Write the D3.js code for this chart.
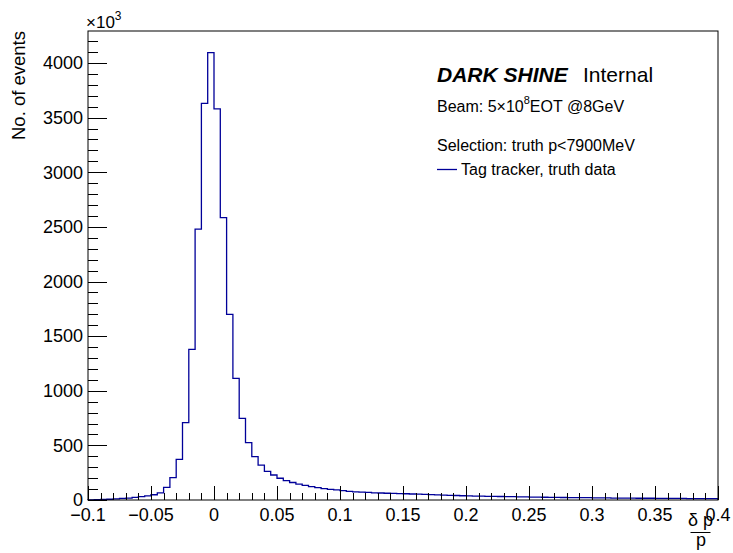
<!DOCTYPE html>
<html>
<head>
<meta charset="utf-8">
<script src="https://cdn.jsdelivr.net/npm/d3@7"></script>
<style>
  body { margin: 0; background: #fff; }
  svg text { font-family: "Liberation Sans", Arial, Helvetica, sans-serif; fill: #000; }
</style>
</head>
<body>
<svg width="733" height="553"></svg>
<script>
// histogram binning: 100 bins of 0.005 from -0.1 to 0.4
var xMin = -0.1, xMax = 0.4, binWidth = 0.005;

// bin contents (x10^3 events)
var counts = [
  2, 3, 5, 7, 10, 14, 18, 24, 30, 38,
  48, 65, 116, 204, 372, 708, 1379, 2480, 3631, 4095,
  3580, 2584, 1700, 1114, 748, 525, 397, 320, 262, 229,
  199, 177, 160, 146, 134, 122, 113, 104, 98, 92,
  85, 79, 75, 72, 69, 66, 64, 62, 60, 59,
  57, 55, 53, 51, 49, 47, 45, 43, 41, 39,
  37, 36, 35, 34, 33, 32, 31, 30, 29, 28,
  27, 26, 25, 24, 24, 23, 22, 22, 21, 21,
  20, 19, 19, 18, 18, 17, 17, 16, 16, 16,
  15, 15, 14, 14, 14, 13, 13, 13, 12, 12
];

var xTicks = [-0.1, -0.05, 0, 0.05, 0.1, 0.15, 0.2, 0.25, 0.3, 0.35, 0.4];
var xTickLabels = ["\u22120.1", "\u22120.05", "0", "0.05", "0.1", "0.15", "0.2", "0.25", "0.3", "0.35", "0.4"];
var yTicks = [0, 500, 1000, 1500, 2000, 2500, 3000, 3500, 4000];
var yMax = 4293;

var svg = d3.select("svg");
var frameL = 88, frameR = 718, frameT = 31, frameB = 500;

var x = d3.scaleLinear().domain([xMin, xMax]).range([frameL, frameR]);
var y = d3.scaleLinear().domain([0, yMax]).range([frameB, frameT]);

// histogram outline
var pts = [[xMin, 0]];
counts.forEach(function (c, i) {
    var lo = xMin + i * binWidth;
    pts.push([lo, c]);
    pts.push([lo + binWidth, c]);
});
pts.push([xMax, 0]);

svg.append("path")
    .datum(pts)
    .attr("fill", "none")
    .attr("stroke", "#000099")
    .attr("stroke-width", 1.3)
    .attr("d", d3.line()
        .x(function (d) { return x(d[0]); })
        .y(function (d) { return y(d[1]); }));

// frame
svg.append("rect")
    .attr("x", frameL).attr("y", frameT)
    .attr("width", frameR - frameL).attr("height", frameB - frameT)
    .attr("fill", "none").attr("stroke", "#000").attr("stroke-width", 1);

// x axis ticks (inside, pointing up)
var xMinor = d3.range(0, 51).map(function (i) { return xMin + i * 0.01; });
svg.append("g").selectAll("line").data(xMinor).enter().append("line")
    .attr("x1", function (d) { return Math.round(x(d)) + 0.5; })
    .attr("x2", function (d) { return Math.round(x(d)) + 0.5; })
    .attr("y1", frameB)
    .attr("y2", function (d, i) { return i % 5 === 0 ? frameB - 14 : frameB - 7; })
    .attr("stroke", "#000");

svg.append("g").selectAll("text").data(xTicks).enter().append("text")
    .attr("x", function (d) { return x(d); })
    .attr("y", 521)
    .attr("text-anchor", "middle")
    .style("font-size", "18px")
    .text(function (d, i) { return xTickLabels[i]; });

// y axis ticks (inside, pointing right)
var yMinor = d3.range(0, 43).map(function (i) { return i * 100; });
svg.append("g").selectAll("line").data(yMinor).enter().append("line")
    .attr("x1", frameL)
    .attr("x2", function (d, i) { return i % 5 === 0 ? frameL + 19 : frameL + 10; })
    .attr("y1", function (d) { return Math.round(y(d)) + 0.5; })
    .attr("y2", function (d) { return Math.round(y(d)) + 0.5; })
    .attr("stroke", "#000");

svg.append("g").selectAll("text").data(yTicks).enter().append("text")
    .attr("x", 83)
    .attr("y", function (d) { return y(d); })
    .attr("dy", "0.35em")
    .attr("text-anchor", "end")
    .style("font-size", "18px")
    .text(function (d) { return d; });

// x10^3 multiplier
var mult = svg.append("text").attr("x", 86).attr("y", 28).style("font-size", "17px");
mult.append("tspan").text("\u00d710");
mult.append("tspan").attr("dy", -8).style("font-size", "12px").text("3");

// y title
svg.append("text")
    .attr("transform", "translate(25," + frameT + ") rotate(-90)")
    .attr("text-anchor", "end")
    .style("font-size", "18.5px")
    .text("No. of events");

// x title: delta p over p
svg.append("text").attr("x", 700.5).attr("y", 526).attr("text-anchor", "middle")
    .style("font-size", "18px").text("\u03b4 p");
svg.append("line").attr("x1", 690.5).attr("x2", 710.5).attr("y1", 532.5).attr("y2", 532.5)
    .attr("stroke", "#000");
svg.append("text").attr("x", 701).attr("y", 546).attr("text-anchor", "middle")
    .style("font-size", "18px").text("p");

// labels
var t1 = svg.append("text").attr("x", 437).attr("y", 82).style("font-size", "21px");
t1.append("tspan").style("font-weight", "bold").style("font-style", "italic").text("DARK SHINE");
t1.append("tspan").attr("x", 583).text("Internal");

var t2 = svg.append("text").attr("x", 437).attr("y", 112).style("font-size", "16px");
t2.append("tspan").text("Beam: 5\u00d710");
t2.append("tspan").attr("dy", -8).style("font-size", "11px").text("8");
t2.append("tspan").attr("dy", 8).text("EOT @8GeV");

svg.append("text").attr("x", 437).attr("y", 151).style("font-size", "16px")
    .text("Selection: truth p<7900MeV");

// legend
svg.append("line").attr("x1", 437).attr("x2", 457).attr("y1", 169.5).attr("y2", 169.5)
    .attr("stroke", "#000099").attr("stroke-width", 1.3);
svg.append("text").attr("x", 461).attr("y", 175).style("font-size", "16px")
    .text("Tag tracker, truth data");
</script>
</body>
</html>
